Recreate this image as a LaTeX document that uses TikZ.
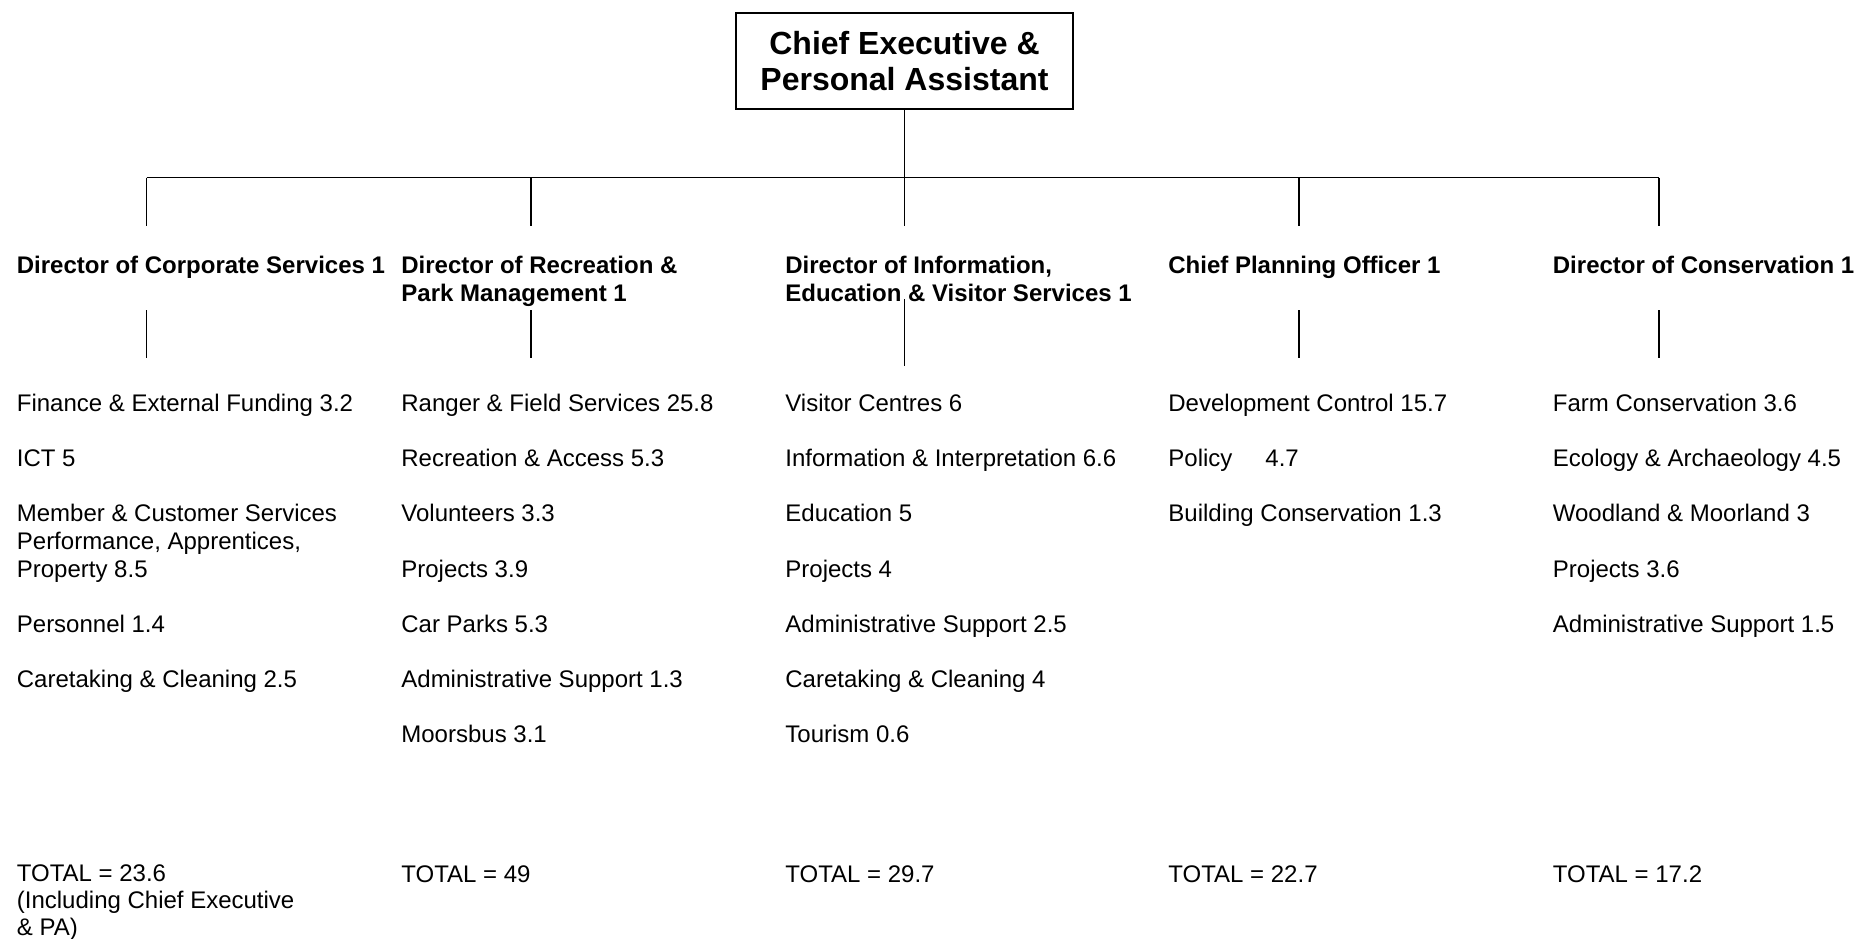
\documentclass[tikz,border=0pt]{standalone}
\usepackage{fontspec}
\setmainfont{Liberation Sans}
\usepackage{tikz}
\usetikzlibrary{positioning}
\definecolor{chartink}{RGB}{0,0,0}
\tikzset{
  ceobox/.style={rectangle, draw=chartink, line width=0.9pt, inner sep=0pt,
    minimum width=168.5pt, minimum height=48pt, align=center,
    font=\fontsize{16}{18}\selectfont\bfseries},
  dirtitle/.style={anchor=base west, inner sep=0pt, align=left,
    font=\fontsize{12}{14}\selectfont\bfseries},
  unititem/.style={anchor=base west, inner sep=0pt, align=left,
    font=\fontsize{12}{14}\selectfont},
  totaltext/.style={anchor=base west, inner sep=0pt, align=left,
    font=\fontsize{12}{13.4}\selectfont},
  link/.style={line width=0.85pt, color=chartink}
}

\begin{document}
\begin{tikzpicture}[x=0.5pt, y=-0.5pt]
  \useasboundingbox (0,0) rectangle (1854,938);

  % ── Chief Executive ────────────────────────────────────────────────────────
  \node[ceobox] (ceo) at (904.5,61) {Chief Executive \&\\Personal Assistant};

  % ── Bus line and the five stubs down to the directors ─────────────────────
  \coordinate (busL) at (146.6,177.5);
  \coordinate (busM) at (904.5,177.5);
  \coordinate (busR) at (1659,177.5);
  \draw[link] (busL) -- (busR);
  \draw[link] (ceo.south) -- (busM);
  \foreach \sx [count=\i] in {146.6,531,904.5,1299,1659} {
    \coordinate (up\i) at (\sx,177.5);
    \coordinate (dn\i) at (\sx,226);
    \draw[link] (up\i) -- (dn\i);
  }

  % ── Directors (base = last line) ───────────────────────────────────────────
  \node[dirtitle] (dir1) at (16.5,273)  {Director of Corporate Services 1};
  \node[dirtitle] (dir2) at (401,301)   {Director of Recreation \&\\Park Management 1};
  \node[dirtitle] (dir3) at (785,301)   {Director of Information,\\Education \& Visitor Services 1};
  \node[dirtitle] (dir4) at (1168,273)  {Chief Planning Officer 1};
  \node[dirtitle] (dir5) at (1552.5,273) {Director of Conservation 1};

  % Stubs under the directors (the middle one runs longer)
  \foreach \sx/\ya/\yb [count=\i] in {146.6/310/357.5, 531/310/357.5, 904.5/299/366,
                                       1299/310/357.5, 1659/310/357.5} {
    \coordinate (lt\i) at (\sx,\ya);
    \coordinate (lb\i) at (\sx,\yb);
    \draw[link] (lt\i) -- (lb\i);
  }

  % ── Sections and staff numbers ─────────────────────────────────────────────
  % Corporate Services
  \node[unititem] (c1r1) at (16.5,411.5) {Finance \& External Funding 3.2};
  \node[unititem] (c1r2) at (16.5,466.7) {ICT 5};
  \node[unititem] (c1r3) at (16.5,577.9) {Member \& Customer Services\\Performance, Apprentices,\\Property 8.5};
  \node[unititem] (c1r5) at (16.5,632.3) {Personnel 1.4};
  \node[unititem] (c1r6) at (16.5,687.5) {Caretaking \& Cleaning 2.5};

  % Recreation & Park Management
  \foreach \txt [count=\r] in {Ranger \& Field Services 25.8, Recreation \& Access 5.3,
      Volunteers 3.3, Projects 3.9, Car Parks 5.3, Administrative Support 1.3, Moorsbus 3.1}
    \node[unititem] (c2r\r) at (401,{411.5+(\r-1)*55.2}) {\txt};

  % Information, Education & Visitor Services
  \foreach \txt [count=\r] in {Visitor Centres 6, Information \& Interpretation 6.6,
      Education 5, Projects 4, Administrative Support 2.5, Caretaking \& Cleaning 4, Tourism 0.6}
    \node[unititem] (c3r\r) at (785,{411.5+(\r-1)*55.2}) {\txt};

  % Planning
  \foreach \txt [count=\r] in {Development Control 15.7, Policy\hspace{16.5pt}4.7,
      Building Conservation 1.3}
    \node[unititem] (c4r\r) at (1168,{411.5+(\r-1)*55.2}) {\txt};

  % Conservation
  \foreach \txt [count=\r] in {Farm Conservation 3.6, Ecology \& Archaeology 4.5,
      Woodland \& Moorland 3, Projects 3.6, Administrative Support 1.5}
    \node[unititem] (c5r\r) at (1552.5,{411.5+(\r-1)*55.2}) {\txt};

  % ── Totals ─────────────────────────────────────────────────────────────────
  \node[totaltext] (tot1) at (16.5,935.4) {TOTAL = 23.6\\(Including Chief Executive\\\& PA)};
  \node[totaltext] (tot2) at (401,882)    {TOTAL = 49};
  \node[totaltext] (tot3) at (785,882)    {TOTAL = 29.7};
  \node[totaltext] (tot4) at (1168,882)   {TOTAL = 22.7};
  \node[totaltext] (tot5) at (1552.5,882) {TOTAL = 17.2};
\end{tikzpicture}
\end{document}
